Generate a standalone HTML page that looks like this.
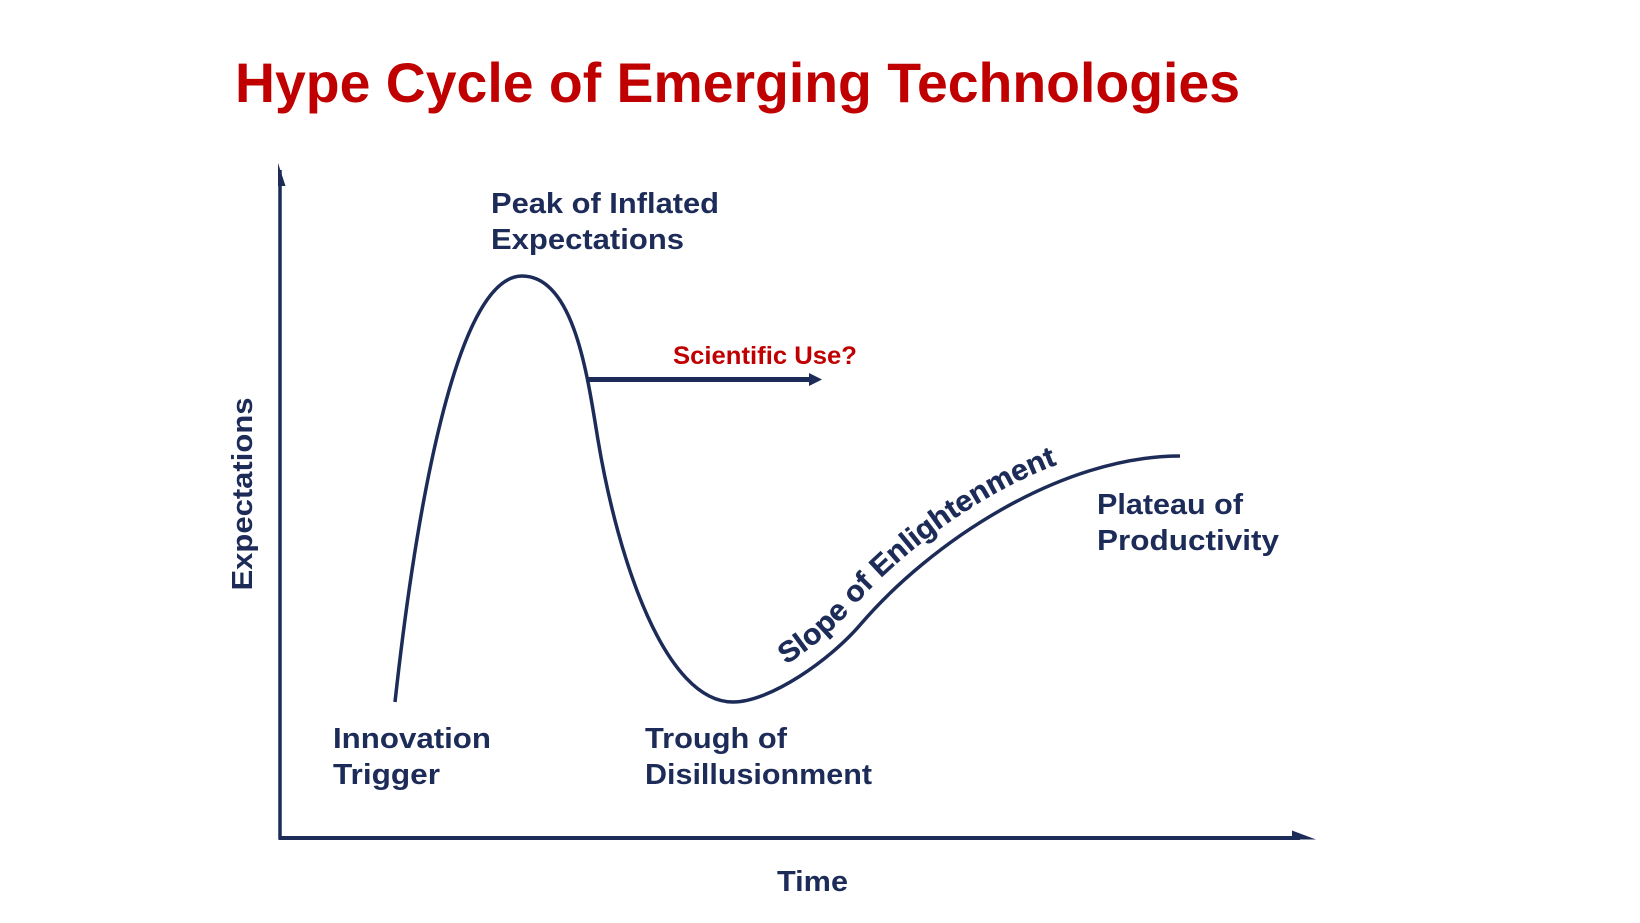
<!DOCTYPE html>
<html>
<head>
<meta charset="utf-8">
<style>
  html, body { margin: 0; padding: 0; background: #ffffff; }
  body { width: 1640px; height: 923px; overflow: hidden; }
  svg { display: block; }
  .lbl { font-family: "Liberation Sans", sans-serif; font-weight: bold; fill: #1c2b57; font-size: 29px; }
</style>
</head>
<body>
<svg width="1640" height="923" viewBox="0 0 1640 923" xmlns="http://www.w3.org/2000/svg">
  <rect width="1640" height="923" fill="#ffffff"/>

  <!-- Title -->
  <text x="235" y="102" font-family="Liberation Sans, sans-serif" font-weight="bold" font-size="56" fill="#c00000" textLength="1005" lengthAdjust="spacingAndGlyphs">Hype Cycle of Emerging Technologies</text>

  <!-- Axes -->
  <line x1="280" y1="170" x2="280" y2="839" stroke="#1c2b57" stroke-width="3.5"/>
  <polygon points="278,163 285.5,186 278,186" fill="#1c2b57"/>
  <line x1="278.5" y1="838" x2="1300" y2="838" stroke="#1c2b57" stroke-width="4"/>
  <polygon points="1292,830.5 1316,839.5 1292,839.5" fill="#1c2b57"/>

  <!-- Hype curve -->
  <path d="M395,702 C415,520 455,276 522,276 C575,276 588,380 598,440 C618,560 665,702 733,702 C770,702 830,660 860,625 C930,543 1060,456 1180,456"
        fill="none" stroke="#1c2b57" stroke-width="3.5" stroke-linecap="butt"/>

  <!-- Scientific use arrow -->
  <line x1="586" y1="379.5" x2="812" y2="379.5" stroke="#1c2b57" stroke-width="5"/>
  <polygon points="809,373 822,379.5 809,386" fill="#1c2b57"/>
  <text x="673" y="364" font-family="Liberation Sans, sans-serif" font-weight="bold" font-size="25" fill="#c00000" textLength="184" lengthAdjust="spacingAndGlyphs">Scientific Use?</text>

  <!-- Slope text path -->
  <defs>
    <path id="slopePath" d="M733,702 C770,702 830,660 860,625 C930,543 1060,456 1180,456"/>
  </defs>
  <g transform="translate(-10,-14)">
    <text class="lbl" font-size="28" stroke="#1c2b57" stroke-width="0.4"><textPath href="#slopePath" startOffset="68" textLength="340" lengthAdjust="spacingAndGlyphs">Slope of Enlightenment</textPath></text>
  </g>

  <!-- Labels -->
  <text class="lbl" x="491" y="213" textLength="228" lengthAdjust="spacingAndGlyphs">Peak of Inflated</text>
  <text class="lbl" x="491" y="249" textLength="193" lengthAdjust="spacingAndGlyphs">Expectations</text>

  <text class="lbl" x="333" y="748" textLength="158" lengthAdjust="spacingAndGlyphs">Innovation</text>
  <text class="lbl" x="333" y="784" textLength="107" lengthAdjust="spacingAndGlyphs">Trigger</text>

  <text class="lbl" x="645" y="748" textLength="142" lengthAdjust="spacingAndGlyphs">Trough of</text>
  <text class="lbl" x="645" y="784" textLength="227" lengthAdjust="spacingAndGlyphs">Disillusionment</text>

  <text class="lbl" x="1097" y="514" textLength="146" lengthAdjust="spacingAndGlyphs">Plateau of</text>
  <text class="lbl" x="1097" y="550" textLength="182" lengthAdjust="spacingAndGlyphs">Productivity</text>

  <text class="lbl" x="777" y="891" textLength="71" lengthAdjust="spacingAndGlyphs">Time</text>

  <text class="lbl" font-size="30" transform="translate(252,494) rotate(-90)" text-anchor="middle" textLength="193" lengthAdjust="spacingAndGlyphs">Expectations</text>
</svg>
</body>
</html>
